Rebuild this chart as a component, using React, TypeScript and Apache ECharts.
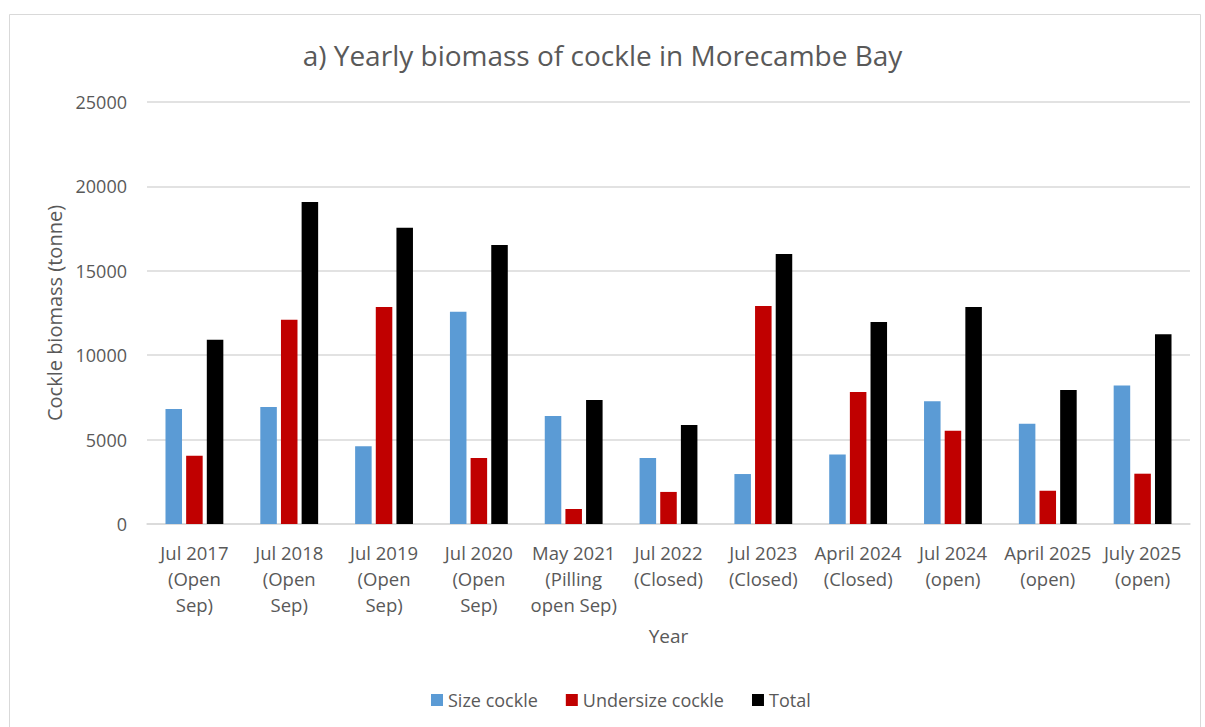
import React, { useEffect, useRef } from "react";
import * as echarts from "echarts";

const categories = [
  "Jul 2017\n(Open\nSep)",
  "Jul 2018\n(Open\nSep)",
  "Jul 2019\n(Open\nSep)",
  "Jul 2020\n(Open\nSep)",
  "May 2021\n(Pilling\nopen Sep)",
  "Jul 2022\n(Closed)",
  "Jul 2023\n(Closed)",
  "April 2024\n(Closed)",
  "Jul 2024\n(open)",
  "April 2025\n(open)",
  "July 2025\n(open)",
];
const sizeCockle = [6810, 6930, 4600, 12580, 6400, 3910, 2960, 4110, 7270, 5940, 8210];
const undersizeCockle = [4050, 12100, 12860, 3910, 890, 1900, 12910, 7820, 5530, 1970, 2980];
const total = [10920, 19080, 17550, 16530, 7350, 5860, 16000, 11970, 12860, 7940, 11240];

const FONT = "'Open Sans', sans-serif";
const GREY = "#595959";

export default function App() {
  const ref = useRef<HTMLDivElement>(null);
  useEffect(() => {
    if (!ref.current) return;
    const chart = echarts.init(ref.current, null, { renderer: "svg" });
    chart.setOption({
      animation: false,
      backgroundColor: "#ffffff",
      textStyle: { fontFamily: FONT },
      title: {
        text: "a) Yearly biomass of cockle in Morecambe Bay",
        left: "center",
        top: 36,
        textStyle: { fontFamily: FONT, fontSize: 28, fontWeight: "normal", color: GREY },
      },
      graphic: [
        {
          type: "rect",
          shape: { x: 9.5, y: 14.5, width: 1191, height: 800 },
          style: { fill: "none", stroke: "#d9d9d9", lineWidth: 1 },
          silent: true,
        },
      ],
      legend: {
        bottom: 13,
        left: 426,
        itemWidth: 12,
        itemHeight: 12,
        itemGap: 28,
        icon: "rect",
        textStyle: { fontFamily: FONT, fontSize: 18, color: GREY },
        data: ["Size cockle", "Undersize cockle", "Total"],
      },
      grid: { left: 147, right: 15, top: 102, bottom: 203 },
      xAxis: {
        type: "category",
        data: categories,
        name: "Year",
        nameLocation: "middle",
        nameGap: 102,
        nameTextStyle: { fontFamily: FONT, fontSize: 19, color: GREY },
        axisLine: { lineStyle: { color: "#d9d9d9", width: 1.5 } },
        axisTick: { show: false },
        axisLabel: {
          interval: 0,
          fontFamily: FONT,
          fontSize: 18.5,
          color: GREY,
          lineHeight: 26,
          margin: 15,
        },
      },
      yAxis: {
        type: "value",
        min: 0,
        max: 25000,
        interval: 5000,
        name: "Cockle biomass (tonne)",
        nameLocation: "middle",
        nameGap: 82,
        nameTextStyle: { fontFamily: FONT, fontSize: 20, color: GREY },
        axisLine: { show: false },
        axisTick: { show: false },
        axisLabel: {
          fontFamily: FONT,
          fontSize: 18,
          color: GREY,
          margin: 20,
          formatter: (v: number) => String(v),
        },
        splitLine: { lineStyle: { color: "#d9d9d9", width: 1.5 } },
      },
      series: [
        {
          name: "Size cockle",
          type: "bar",
          data: sizeCockle,
          itemStyle: { color: "#5b9bd5" },
          barGap: "25%",
          barCategoryGap: "39%",
        },
        {
          name: "Undersize cockle",
          type: "bar",
          data: undersizeCockle,
          itemStyle: { color: "#c00000" },
        },
        {
          name: "Total",
          type: "bar",
          data: total,
          itemStyle: { color: "#000000" },
        },
      ],
    });
    return () => chart.dispose();
  }, []);
  return (
    <div
      ref={ref}
      style={{ position: "fixed", left: 0, top: 0, width: 1205, height: 727 }}
    />
  );
}
